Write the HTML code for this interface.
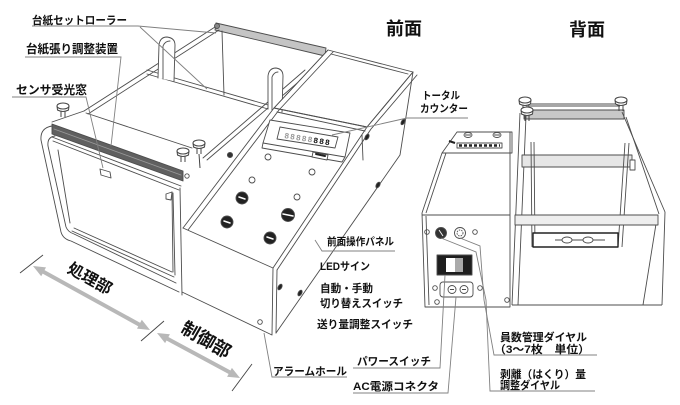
<!DOCTYPE html>
<html><head><meta charset="utf-8">
<style>
html,body{margin:0;padding:0;background:#fff;}
svg{display:block;}
text{font-family:"Liberation Sans","Noto Sans CJK JP",sans-serif;font-weight:bold;fill:#111;}
</style></head><body>
<svg width="680" height="405" viewBox="0 0 680 405" xmlns="http://www.w3.org/2000/svg">
<defs>
<g id="knob">
 <path d="M-2,5 L-2,11 M2,5 L2,11" stroke="#444" fill="none"/>
 <path d="M-6,0 L-5.5,4 Q0,7 5.5,4 L6,0" fill="#fff" stroke="#444"/>
 <ellipse cx="0" cy="0" rx="6" ry="3" fill="#fff" stroke="#444"/>
</g>
</defs>

<!-- ========== FRONT VIEW ========== -->
<g fill="none" stroke="#4d4d4d" stroke-width="0.9" stroke-linejoin="round" stroke-linecap="round">
 <polygon points="216,23 326,48 325,56 215,30" fill="#c4c4c4"/>
 <circle cx="217" cy="26" r="2.5" fill="#888"/>
 <path d="M215,27 L84,111 M219,30 L88,114"/>
 <path d="M222,31 L224,95"/>
 <path d="M147,70 L268,105 M147,74 L268,109"/>
 <path d="M305,70 L203,158 M309,73 L207,160"/>
 <path d="M158,78 L159,45 Q160,37 167,37 Q175,38 175,45 L174,81" fill="#fff"/>
 <path d="M163,79 L163,46 Q165,41 170,41"/>
 <path d="M268,109 L268,76 Q269,68 276,68 Q283,69 283,76 L282,112" fill="#fff"/>
 <path d="M272,110 L272,77 Q274,72 278,72"/>

 <path d="M84,111 L52,122 M86,113 L192,148"/>
 <polygon points="52,124 183,171 183,181 52,134" fill="#606060"/>
 <path d="M54,129 L181,175" stroke="#999"/>
 <path d="M52,137 L181,186 M53,141 L179,190"/>
 <circle cx="187" cy="176" r="2.2" fill="#fff"/>

 <path d="M52,126 Q40,128 41,140 L61,232 Q63,239 71,241 L179,292"/>
 <path d="M55,136 Q47,137 48,146 L66,227 Q68,232 74,234 L176,283"/>
 <path d="M58,150 L70,223 M74,228 L172,272 M72,231 L174,277 M172,192 L173,272"/>
 <polygon points="100,169 110,172 111,178 101,175"/>
 <path d="M166,194 L172,192 L171,200 L166,199 Z"/>
 <path d="M173,193 L175,275 M180,188 L182,295"/>

 <polygon points="328,50 413,72 367,127 274,108" fill="#fff"/>
 <path d="M331,54 L408,74"/>
 <path d="M328,50 L274,108 L183,228 M333,52 L279,110 L188,230"/>
 <path d="M274,108 L367,127 M277,112 L365,131"/>
 <path d="M413,72 L367,127 L273,268 M417,75 L371,129 L277,270"/>
 <path d="M183,228 L273,268"/>
 <path d="M273,268 L272,335 M277,270 L276,333 M182,292 L272,335"/>
 <path d="M413,72 L400,155 L276,333"/>
 <path d="M362,135 L363,160"/>

 <polygon points="270,120 350,133 345,157 263,143" fill="#fff"/>
 <polyline points="263,143 262,148 342,162 345,157"/>
 <polygon points="280,127 338,137 335,148 277,139"/>
 <polygon points="313,152 328,155 327,160 312,157" fill="#fff"/>
 <path d="M316,154 L325,156" stroke="#222" stroke-width="2"/>

 <circle cx="268" cy="157" r="3"/>
 <circle cx="312" cy="172" r="3"/>
 <circle cx="252" cy="180" r="3"/>
 <circle cx="297" cy="197" r="3"/>
 <circle cx="260" cy="322" r="2.3"/>
 <circle cx="242" cy="198" r="6" fill="#222"/>
 <circle cx="288" cy="215" r="6.5" fill="#222"/>
 <circle cx="227" cy="222" r="6" fill="#222"/>
 <circle cx="270" cy="238" r="6" fill="#222"/>
 <path d="M239,197 L245,199 M283,214 L293,216 M224,221 L230,223 M267,237 L273,239" stroke="#fff" stroke-width="1.5"/>
 <circle cx="230" cy="155" r="2.6" fill="#333"/>
 <ellipse cx="367" cy="137" rx="1.7" ry="3.1" fill="#222" transform="rotate(30 367 137)"/>
 <ellipse cx="403" cy="122" rx="1.6" ry="3" fill="#222" transform="rotate(30 403 122)"/>
 <ellipse cx="378" cy="185" rx="1.7" ry="3.1" fill="#222" transform="rotate(30 378 185)"/>
 <ellipse cx="280" cy="287" rx="1.7" ry="3.1" fill="#222" transform="rotate(30 280 287)"/>
 <ellipse cx="300" cy="293" rx="1.7" ry="3.1" fill="#222" transform="rotate(30 300 293)"/>
</g>
<use href="#knob" x="63" y="106"/>
<use href="#knob" x="183" y="151"/>
<path d="M199,154 L200,168" stroke="#444"/>
<use href="#knob" x="199" y="143"/>

<text transform="translate(284,138) rotate(9)" font-size="8" textLength="46" style="font-family:'Liberation Mono',monospace"><tspan fill="#999">88888</tspan><tspan fill="#111">888</tspan></text>

<g fill="none" stroke="#808080" stroke-width="0.9">
 <path d="M32,26 L138,26 L216,33 M140,27 L207,89"/>
 <path d="M25,57 L121,57 L111,146"/>
 <path d="M12,97 L86,97 L103,168"/>
 <path d="M332,135 L407,118 L468,118"/>
 <path d="M315,240 L322,251 L395,251"/>
 <path d="M264,333 L272,377 L347,377"/>
</g>

<g stroke="#444" stroke-width="0.9" fill="none">
 <path d="M20,273 L43,255 M141,341 L164,321 M232,391 L252,364"/>
</g>
<g fill="#b8b8b8" stroke="none">
 <path d="M42,271 L140,325" stroke="#b8b8b8" stroke-width="4"/>
 <polygon points="33,266 41.2,276.2 46,267.4"/>
 <polygon points="150,330 137,328.6 141.8,319.8"/>
 <path d="M166,338 L231,373" stroke="#b8b8b8" stroke-width="4"/>
 <polygon points="157,333 165.1,343.1 169.9,334.3"/>
 <polygon points="240,378 227.1,376.7 231.9,367.9"/>
</g>

<!-- ========== BACK VIEW ========== -->
<g fill="none" stroke="#4d4d4d" stroke-width="0.9" stroke-linejoin="round">
 <polygon points="457,132 512,132 512,153 442,153" fill="#fff"/>
 <path d="M442,153 L422,213 M446,153 L426,213"/>
 <path d="M422,213 L425,307 L510,307 L510,132 M422,215 L510,215 M426,216 L429,305"/>
 <ellipse cx="468" cy="135" rx="4" ry="2.5"/>
 <ellipse cx="497" cy="135" rx="4" ry="2.5"/>
 <path d="M465,135 L471,135 M494,135 L500,135"/>
 <rect x="457" y="143" width="45" height="5" fill="#fff"/>
 <path d="M459,145.5 L500,145.5" stroke="#222" stroke-width="2.5" stroke-dasharray="3,2"/>
 <path d="M449,141 L455,143" stroke="#222" stroke-width="2"/>
 <circle cx="441" cy="233" r="5.5" fill="#333"/>
 <path d="M439,230 L443,236" stroke="#fff"/>
 <circle cx="460" cy="233" r="5.5" fill="#fff"/>
 <circle cx="460" cy="233" r="3" stroke-dasharray="1.5,1"/>
 <circle cx="427" cy="232" r="2.3"/>
 <circle cx="475" cy="232" r="2.3"/>
 <rect x="437" y="255" width="35" height="20" fill="#1e1e1e"/>
 <rect x="446" y="258" width="9" height="14" fill="#fff" stroke="none"/>
 <rect x="455" y="258" width="8" height="14" fill="#aaa" stroke="none"/>
 <rect x="440" y="282" width="33" height="15" rx="3" fill="#fff"/>
 <circle cx="452" cy="289.5" r="4"/>
 <circle cx="464" cy="289.5" r="4"/>
 <path d="M450,289.5 L454,289.5 M462,289.5 L466,289.5"/>
 <circle cx="435" cy="288" r="2.3"/>
 <circle cx="480" cy="288" r="2.3"/>
 <circle cx="437" cy="302" r="2.3"/>
 <circle cx="507" cy="300" r="2.3"/>

 <path d="M528,104 L620,104 M528,106 L620,106"/>
 <rect x="524" y="110" width="100" height="9" fill="#c8c8c8"/>
 <path d="M520,113 L512,305 M526,116 L518,305"/>
 <path d="M622,112 L665,212 L662,305"/>
 <path d="M626,117 L659,214 M656,224 L643,305"/>
 <rect x="522" y="155" width="110" height="12" fill="#e6e6e6"/>
 <path d="M531,142 L532,247 M534,142 L535,247"/>
 <path d="M625,143 L618,247 M629,143 L622,247"/>
 <rect x="630" y="160" width="5" height="10" fill="#fff"/>
 <rect x="515" y="215" width="143" height="10" fill="#eee"/>
 <rect x="533" y="233" width="85" height="14" fill="#fff" stroke="#222" stroke-width="1.4"/>
 <path d="M555,240 L605,240"/>
 <ellipse cx="567" cy="240" rx="5" ry="3" fill="#fff"/>
 <ellipse cx="588" cy="240" rx="5" ry="3" fill="#fff"/>
 <path d="M512,305 L662,305"/>
</g>
<use href="#knob" x="525" y="100"/>
<use href="#knob" x="621" y="100"/>
<use href="#knob" x="527" y="110"/>

<g fill="none" stroke="#808080" stroke-width="0.9">
 <path d="M445,275 L440,368 L353,368"/>
 <path d="M456,297 L448,393 L353,393"/>
 <path d="M441,238 L476,252 L486,300 L490,391 L595,391"/>
 <path d="M460,238 L480,246 L484,300 L494,355 L597,355"/>
</g>

<!-- ========== TEXT ========== -->
<text x="32" y="24" font-size="11" textLength="95" lengthAdjust="spacingAndGlyphs">台紙セットローラー</text>
<text x="26" y="53" font-size="12" textLength="92" lengthAdjust="spacingAndGlyphs">台紙張り調整装置</text>
<text x="16" y="94" font-size="12" textLength="71" lengthAdjust="spacingAndGlyphs">センサ受光窓</text>
<text x="386" y="35" font-size="18">前面</text>
<text x="569" y="36" font-size="18">背面</text>
<text x="422" y="99" font-size="10.5" textLength="38" lengthAdjust="spacingAndGlyphs">トータル</text>
<text x="420" y="112" font-size="10.5" textLength="48" lengthAdjust="spacingAndGlyphs">カウンター</text>
<text x="327" y="245" font-size="10.5" textLength="67" lengthAdjust="spacingAndGlyphs">前面操作パネル</text>
<text x="320" y="270" font-size="11" textLength="50" lengthAdjust="spacingAndGlyphs">LEDサイン</text>
<text x="320" y="292" font-size="11" textLength="53" lengthAdjust="spacingAndGlyphs">自動・手動</text>
<text x="320" y="307" font-size="11" textLength="83" lengthAdjust="spacingAndGlyphs">切り替えスイッチ</text>
<text x="317" y="328" font-size="11" textLength="96" lengthAdjust="spacingAndGlyphs">送り量調整スイッチ</text>
<text x="273" y="375" font-size="11" textLength="74" lengthAdjust="spacingAndGlyphs">アラームホール</text>
<text x="357" y="365" font-size="11" textLength="74" lengthAdjust="spacingAndGlyphs">パワースイッチ</text>
<text x="353" y="390" font-size="11" textLength="86" lengthAdjust="spacingAndGlyphs">AC電源コネクタ</text>
<text x="500" y="341" font-size="11" textLength="87" lengthAdjust="spacingAndGlyphs">員数管理ダイヤル</text>
<text x="494" y="353" font-size="11" textLength="96" lengthAdjust="spacingAndGlyphs">（3～7枚　単位）</text>
<text x="500" y="378" font-size="11" textLength="86" lengthAdjust="spacingAndGlyphs">剥離（はくり）量</text>
<text x="500" y="389" font-size="11" textLength="60" lengthAdjust="spacingAndGlyphs">調整ダイヤル</text>
<text transform="translate(90,278) rotate(29)" font-size="16" text-anchor="middle" y="6">処理部</text>
<text transform="translate(206,340) rotate(30)" font-size="18" text-anchor="middle" y="6">制御部</text>
</svg>
</body></html>
